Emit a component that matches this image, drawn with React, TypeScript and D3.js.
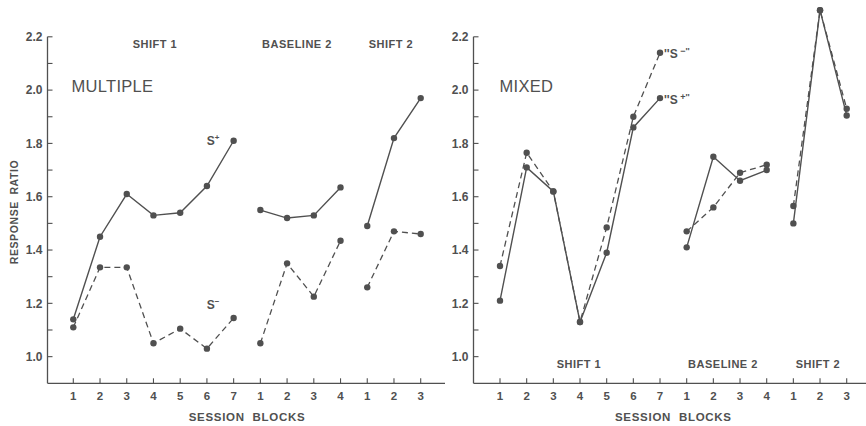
import React from "react";
import * as d3 from "d3";

const phases = ["SHIFT 1", "BASELINE 2", "SHIFT 2"];
const phaseLengths = [7, 4, 3];
const xTickLabels = ["1", "2", "3", "4", "5", "6", "7", "1", "2", "3", "4", "1", "2", "3"];
const yTickValues = [1.0, 1.1, 1.2, 1.3, 1.4, 1.5, 1.6, 1.7, 1.8, 1.9, 2.0, 2.1, 2.2];

// MULTIPLE panel
const multSPlus = [1.14, 1.45, 1.61, 1.53, 1.54, 1.64, 1.81, 1.55, 1.52, 1.53, 1.635, 1.49, 1.82, 1.97];
const multSMinus = [1.11, 1.335, 1.335, 1.05, 1.105, 1.03, 1.145, 1.05, 1.35, 1.225, 1.435, 1.26, 1.47, 1.46];
// MIXED panel
const mixSPlus = [1.21, 1.71, 1.62, 1.13, 1.39, 1.86, 1.97, 1.41, 1.75, 1.66, 1.70, 1.50, 2.30, 1.905];
const mixSMinus = [1.34, 1.765, 1.62, 1.13, 1.485, 1.90, 2.14, 1.47, 1.56, 1.69, 1.72, 1.565, 2.30, 1.93];

const INK = "#505050";
const FONT = "'Liberation Sans', Arial, sans-serif";

const y = d3.scaleLinear().domain([0.9, 2.2]).range([383.3, 36.8]);

function segments(values: number[]) {
  const out: { i: number; v: number }[][] = [];
  let start = 0;
  phaseLengths.forEach((len) => {
    out.push(values.slice(start, start + len).map((v, k) => ({ i: start + k, v })));
    start += len;
  });
  return out;
}

type PanelProps = {
  axisX: number;
  axisEnd: number;
  xRange: [number, number];
  solid: number[];
  dashed: number[];
  title: string;
  titleX: number;
  titleY: number;
  phaseY: number;
  phaseCenters: number[];
  showYTitle: boolean;
  labelFor: (x: d3.ScaleLinear<number, number>) => React.ReactNode;
};

function Panel(p: PanelProps) {
  const x = d3.scaleLinear().domain([0, 13]).range(p.xRange);
  const line = d3
    .line<{ i: number; v: number }>()
    .x((d) => x(d.i))
    .y((d) => y(d.v));
  const bottom = y(0.9);
  return (
    <g>
      <line x1={p.axisX} x2={p.axisX} y1={y(2.2)} y2={bottom} stroke={INK} strokeWidth={1.3} />
      {yTickValues.map((t) => (
        <line key={t} x1={p.axisX} x2={p.axisX + 5} y1={y(t)} y2={y(t)} stroke={INK} strokeWidth={1.1} />
      ))}
      {yTickValues
        .filter((_, k) => k % 2 === 0)
        .map((t) => (
          <text
            key={t}
            x={p.axisX - 5}
            y={y(t)}
            dy="0.36em"
            textAnchor="end"
            fontSize={12}
            fontWeight="bold"
            fill={INK}
            fontFamily={FONT}
          >
            {t.toFixed(1)}
          </text>
        ))}
      <line x1={p.axisX} x2={p.axisEnd} y1={bottom} y2={bottom} stroke={INK} strokeWidth={1.3} />
      {xTickLabels.map((lab, i) => (
        <g key={i}>
          <line x1={x(i)} x2={x(i)} y1={bottom} y2={bottom - 5} stroke={INK} strokeWidth={1.1} />
          <text
            x={x(i)}
            y={bottom + 13}
            dy="0.36em"
            textAnchor="middle"
            fontSize={11.5}
            fontWeight="bold"
            fill={INK}
            fontFamily={FONT}
          >
            {lab}
          </text>
        </g>
      ))}
      <text
        x={(x(0) + x(13)) / 2}
        y={bottom + 34}
        dy="0.36em"
        textAnchor="middle"
        fontSize={11.5}
        fontWeight="bold"
        letterSpacing={0.7}
        fill={INK}
        fontFamily={FONT}
        wordSpacing={4}
      >
        SESSION BLOCKS
      </text>
      {p.showYTitle && (
        <text
          transform={`translate(14,212) rotate(-90)`}
          textAnchor="middle"
          dy="0.36em"
          fontSize={10.5}
          fontWeight="bold"
          letterSpacing={0.6}
          fill={INK}
          fontFamily={FONT}
          wordSpacing={3}
        >
          RESPONSE RATIO
        </text>
      )}
      {phases.map((ph, k) => (
        <text
          key={ph}
          x={p.phaseCenters[k]}
          y={p.phaseY}
          dy="0.36em"
          textAnchor="middle"
          fontSize={11}
          fontWeight="bold"
          letterSpacing={0.5}
          fill={INK}
          fontFamily={FONT}
        >
          {ph}
        </text>
      ))}
      <text
        x={p.titleX}
        y={p.titleY}
        dy="0.36em"
        fontSize={16.5}
        fill={INK}
        fontFamily={FONT}
        letterSpacing={0.3}
      >
        {p.title}
      </text>
      {segments(p.dashed).map((seg, k) => (
        <path key={"d" + k} d={line(seg) || ""} fill="none" stroke={INK} strokeWidth={1.3} strokeDasharray="6,4" />
      ))}
      {segments(p.solid).map((seg, k) => (
        <path key={"s" + k} d={line(seg) || ""} fill="none" stroke={INK} strokeWidth={1.4} />
      ))}
      {p.dashed.map((v, i) => (
        <circle key={"dc" + i} cx={x(i)} cy={y(v)} r={3.2} fill={INK} />
      ))}
      {p.solid.map((v, i) => (
        <circle key={"sc" + i} cx={x(i)} cy={y(v)} r={3.2} fill={INK} />
      ))}
      {p.labelFor(x)}
    </g>
  );
}

export default function App() {
  return (
    <svg width={866} height={426} style={{ position: "absolute", left: 0, top: 0, background: "#fff" }}>
      <rect width={866} height={426} fill="#fff" />
      <Panel
        axisX={47.5}
        axisEnd={445}
        xRange={[73.3, 420.7]}
        solid={multSPlus}
        dashed={multSMinus}
        title="MULTIPLE"
        titleX={71.5}
        titleY={86}
        phaseY={44}
        phaseCenters={[155, 297, 391]}
        showYTitle={true}
        labelFor={(x) => (
          <g fontFamily={FONT} fill={INK} fontWeight="bold">
            <text x={x(6) - 27} y={y(1.81)} dy="0.36em" fontSize={12}>
              S
              <tspan dy={-5} fontSize={8}>
                +
              </tspan>
            </text>
            <text x={x(6) - 27} y={y(1.195)} dy="0.36em" fontSize={12}>
              S
              <tspan dy={-5} fontSize={8}>
                −
              </tspan>
            </text>
          </g>
        )}
      />
      <Panel
        axisX={473.5}
        axisEnd={866}
        xRange={[500, 846.7]}
        solid={mixSPlus}
        dashed={mixSMinus}
        title="MIXED"
        titleX={499.5}
        titleY={86.5}
        phaseY={364}
        phaseCenters={[579, 723, 818]}
        showYTitle={false}
        labelFor={(x) => (
          <g fontFamily={FONT} fill={INK} fontWeight="bold">
            <text x={x(6) + 4} y={y(2.135)} dy="0.36em" fontSize={12}>
              ''S
              <tspan dy={-4} fontSize={9}>
                {" \u2212''"}
              </tspan>
            </text>
            <text x={x(6) + 4} y={y(1.965)} dy="0.36em" fontSize={12}>
              ''S
              <tspan dy={-4} fontSize={9}>
                {" +''"}
              </tspan>
            </text>
          </g>
        )}
      />
    </svg>
  );
}
